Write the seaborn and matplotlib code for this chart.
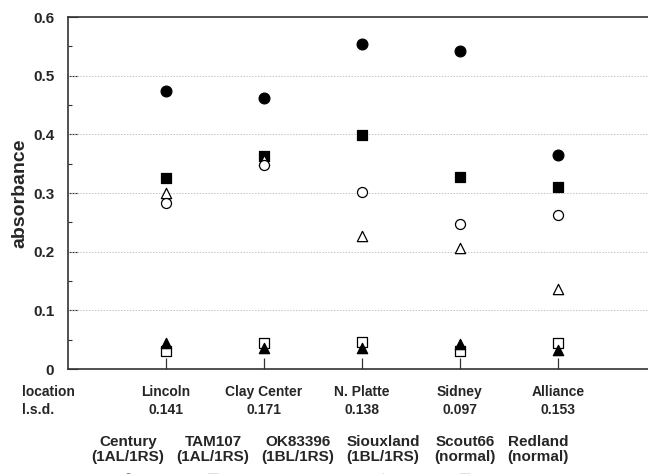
import numpy as np
import pandas as pd
import matplotlib
matplotlib.use("Agg")
import matplotlib.pyplot as plt
import seaborn as sns
from matplotlib.ticker import MultipleLocator

locations = ["Lincoln", "Clay Center", "N. Platte", "Sidney", "Alliance"]
lsd = ["0.141", "0.171", "0.138", "0.097", "0.153"]

cultivars = ["Century", "TAM107", "OK83396", "Siouxland", "Scout66", "Redland"]
groups = ["(1AL/1RS)", "(1AL/1RS)", "(1BL/1RS)", "(1BL/1RS)", "(normal)", "(normal)"]

century = [0.474, 0.462, 0.554, 0.542, 0.365]
tam107 = [0.326, 0.363, 0.399, 0.328, 0.310]
ok83396 = [0.300, 0.356, 0.226, 0.206, 0.136]
siouxland = [0.283, 0.348, 0.301, 0.248, 0.262]
scout66 = [0.030, 0.045, 0.046, 0.031, 0.045]
redland = [0.044, 0.035, 0.036, 0.042, 0.032]

values = [century, tam107, ok83396, siouxland, scout66, redland]
# marker, filled?, size
styles = [("o", True, 60), ("s", True, 42), ("^", False, 55),
          ("o", False, 52), ("s", False, 42), ("^", True, 55)]

rows = []
for name, vals in zip(cultivars, values):
    for i, v in enumerate(vals):
        rows.append({"cultivar": name, "pos": i + 1, "absorbance": v})
df = pd.DataFrame(rows)

sns.set_style("white")
plt.rcParams["font.family"] = ["Liberation Sans", "DejaVu Sans"]
plt.rcParams["font.weight"] = "bold"

fig = plt.figure(figsize=(6.48, 4.74), dpi=100)
ax = fig.add_axes([0.105, 0.2215, 0.895, 0.7425])

for name, (mk, filled, sz) in zip(cultivars, styles):
    sub = df[df["cultivar"] == name]
    sns.scatterplot(data=sub, x="pos", y="absorbance", ax=ax, marker=mk, s=sz,
                    color="black" if filled else "white", edgecolor="black",
                    linewidth=0.9, legend=False, zorder=3, clip_on=False)

ax.set_xlim(0, 5.92)
ax.set_ylim(0, 0.6)
ax.yaxis.set_major_locator(MultipleLocator(0.1))
ax.yaxis.set_minor_locator(MultipleLocator(0.05))
ax.set_yticks([0, 0.1, 0.2, 0.3, 0.4, 0.5, 0.6])
ax.set_yticklabels(["0", "0.1", "0.2", "0.3", "0.4", "0.5", "0.6"],
                   fontsize=11, fontweight="bold")
ax.set_xticks(range(1, len(locations) + 1))
ax.set_xticklabels([])
ax.tick_params(axis="y", which="both", left=True)
ax.tick_params(axis="x", which="major", bottom=True)
ax.tick_params(axis="y", which="major", direction="in", length=7, width=0.8,
               pad=10, color="#333333")
ax.tick_params(axis="y", which="minor", direction="in", length=3, width=0.8,
               color="#333333")
ax.tick_params(axis="x", which="major", direction="in", length=8, width=0.9,
               color="#333333")

for yv in [0.1, 0.2, 0.3, 0.4, 0.5]:
    ax.axhline(yv, color="#c4c4c4", lw=0.7, ls=(0, (1.5, 1.5)), zorder=1)

for side in ["top", "bottom", "left"]:
    ax.spines[side].set_color("#333333")
    ax.spines[side].set_linewidth(1.2)
ax.spines["right"].set_visible(False)

ax.set_xlabel("")
ax.set_ylabel("absorbance", fontsize=14, fontweight="bold", labelpad=3)

trans = ax.get_xaxis_transform()
for i, (loc, l) in enumerate(zip(locations, lsd)):
    ax.text(i + 1, -0.065, loc, transform=trans, ha="center", va="center",
            fontsize=10, fontweight="bold")
    ax.text(i + 1, -0.116, l, transform=trans, ha="center", va="center",
            fontsize=10, fontweight="bold")
fig.text(22 / 648, 1 - 392 / 474, "location", ha="left", va="center",
         fontsize=10, fontweight="bold")
fig.text(22 / 648, 1 - 410 / 474, "l.s.d.", ha="left", va="center",
         fontsize=10, fontweight="bold")

cx = [128, 213, 298, 383, 465, 538]
for x, name, grp, (mk, filled, sz) in zip(cx, cultivars, groups, styles):
    fig.text(x / 648, 1 - 442 / 474, name, ha="center", va="center",
             fontsize=11, fontweight="bold")
    fig.text(x / 648, 1 - 457 / 474, grp, ha="center", va="center",
             fontsize=11, fontweight="bold")
    fig.lines.append(plt.Line2D([x / 648], [1 - 479 / 474], transform=fig.transFigure,
                                marker=mk, markersize=np.sqrt(sz),
                                markerfacecolor="black" if filled else "white",
                                markeredgecolor="black", markeredgewidth=0.9,
                                linestyle="none"))

fig.savefig("out.png", dpi=100)
